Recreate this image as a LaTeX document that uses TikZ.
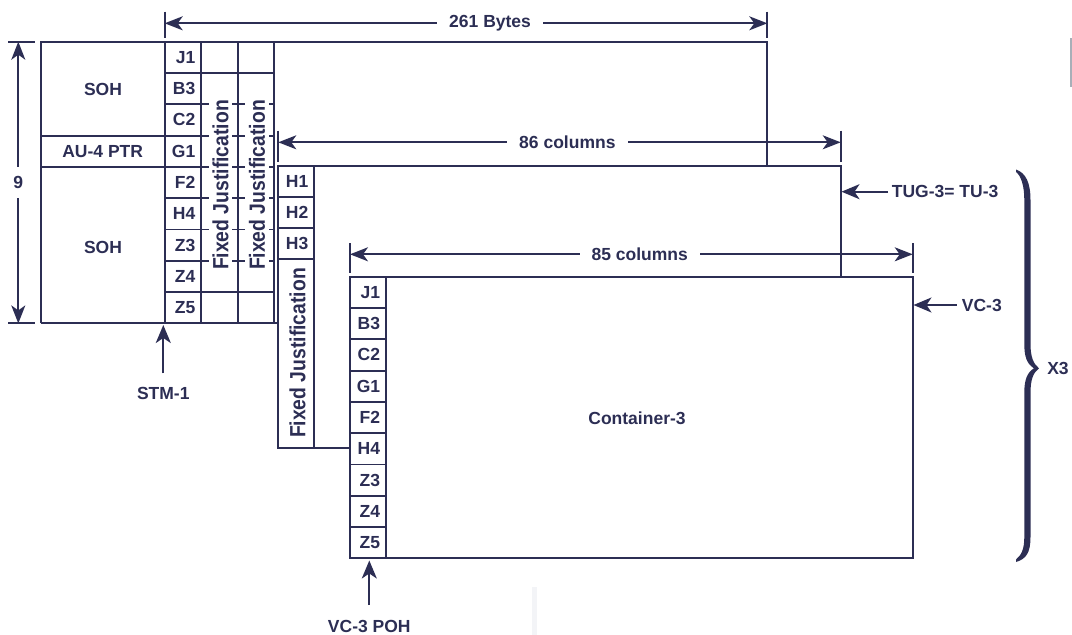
\documentclass[tikz,border=0pt]{standalone}
\usepackage{fontspec}
\setmainfont{Liberation Sans}
\usepackage{graphicx}
\usetikzlibrary{arrows.meta,positioning}
\definecolor{navy}{RGB}{44,46,84}

\begin{document}
\begin{tikzpicture}[
    x=1pt, y=-1pt,
    every node/.style={font=\fontsize{17.5}{20}\selectfont\bfseries, text=navy},
    ln/.style={draw=navy, line width=1.9pt},
    dimarr/.style={ln, {Stealth[length=18pt, width=14pt, inset=5pt]}-{Stealth[length=18pt, width=14pt, inset=5pt]}},
    ptr/.style={ln, -{Stealth[length=18pt, width=15pt, inset=5pt]}},
    lbl/.style={fill=white, inner xsep=12pt, inner ysep=1pt},
    cl/.style={anchor=east, inner sep=0pt},
    fj/.style={rotate=90, fill=white, inner xsep=1pt, inner ysep=3.5pt,
               font=\fontsize{22}{24}\selectfont\bfseries},
    brc/.style={fill=navy},
  ]
  \useasboundingbox (0,0) rectangle (1072,635);
  \fill[fill={rgb,255:red,168;green,175;blue,184}] (1070,38.3) rectangle (1072,86.7);
  \fill[fill={rgb,255:red,243;green,244;blue,247}] (531.7,586.7) rectangle (537.3,635);

  % STM-1 frame
  \draw[ln] (40.7,323.4) -- (40.7,41.7) -- (767.3,41.7) -- (767.3,165.7);
  \draw[ln] (40.7,323.4) -- (278.3,323.4);
  \draw[ln] (164.7,41.7) -- (164.7,323.4);
  \draw[ln] (201.3,41.7) -- (201.3,323.4);
  \draw[ln] (238,41.7) -- (238,323.4);
  \draw[ln] (274,41.7) -- (274,323.4);
  \draw[ln] (40.7,135.6) -- (164.7,135.6);
  \draw[ln] (40.7,166.9) -- (164.7,166.9);
  \foreach \y in {73.0,104.3,135.6,166.9,198.2,229.5,260.8,292.1}
    \draw[ln] (164.7,\y) -- (274,\y);
  \node[fj] (fja) at (220.5,185) {\scalebox{0.88}[1]{Fixed Justification}};
  \node[fj] (fjb) at (257,185) {\scalebox{0.88}[1]{Fixed Justification}};

  % TUG-3
  \draw[ln] (350,447.7) -- (278.3,447.7) -- (278.3,165.7) -- (840.7,165.7) -- (840.7,276.7);
  \draw[ln] (314.3,165.7) -- (314.3,447.7);
  \draw[ln] (278.3,196.9) -- (314.3,196.9);
  \draw[ln] (278.3,228.1) -- (314.3,228.1);
  \draw[ln] (278.3,259.3) -- (314.3,259.3);
  \node[fj, fill=none] (fjc) at (297.5,353) {\scalebox{0.88}[1]{Fixed Justification}};

  % VC-3
  \draw[ln] (350,276.7) rectangle (912.7,558.4);
  \draw[ln] (386,276.7) -- (386,558.4);
  \foreach \y in {308.0,339.3,370.6,401.9,433.2,464.5,495.8,527.1}
    \draw[ln] (350,\y) -- (386,\y);

  % areas
  \node (soha) at (103,89) {SOH};
  \node (ptrau) at (102.7,151.2) {AU-4 PTR};
  \node (sohb) at (103,247) {SOH};
  \node (cont) at (637,418) {Container-3};

  % STM-1 column
  \node[cl] (sj1) at (195.5,57.35) {J1};
  \node[cl] (sb3) at (195.5,88.65) {B3};
  \node[cl] (sc2) at (195.5,119.95) {C2};
  \node[cl] (sg1) at (195.5,151.25) {G1};
  \node[cl] (sf2) at (195.5,182.55) {F2};
  \node[cl] (sh4) at (195.5,213.85) {H4};
  \node[cl] (sz3) at (195.5,245.15) {Z3};
  \node[cl] (sz4) at (195.5,276.45) {Z4};
  \node[cl] (sz5) at (195.5,307.75) {Z5};

  % TUG-3 column
  \node[cl] (th1) at (308.5,181.3) {H1};
  \node[cl] (th2) at (308.5,212.5) {H2};
  \node[cl] (th3) at (308.5,243.7) {H3};

  % VC-3 POH
  \node[cl] (vj1) at (380.3,292.35) {J1};
  \node[cl] (vb3) at (380.3,323.65) {B3};
  \node[cl] (vc2) at (380.3,354.95) {C2};
  \node[cl] (vg1) at (380.3,386.25) {G1};
  \node[cl] (vf2) at (380.3,417.55) {F2};
  \node[cl] (vh4) at (380.3,448.85) {H4};
  \node[cl] (vz3) at (380.3,480.15) {Z3};
  \node[cl] (vz4) at (380.3,511.45) {Z4};
  \node[cl] (vz5) at (380.3,542.75) {Z5};

  % dimensions
  \draw[ln] (164.7,11.7) -- (164.7,38.3);
  \draw[ln] (767.3,11.7) -- (767.3,38.3);
  \coordinate (byl) at (164.7,23.3);
  \coordinate (byr) at (767.3,23.3);
  \draw[dimarr] (byl) -- node[lbl, pos=0.54] (bytes) {261 Bytes} (byr);

  \draw[ln] (278.3,130.7) -- (278.3,161.7);
  \draw[ln] (840.7,130.7) -- (840.7,161.7);
  \coordinate (tul) at (278.3,142.3);
  \coordinate (tur) at (840.7,142.3);
  \draw[dimarr] (tul) -- node[lbl, pos=0.514] (cols86) {86 columns} (tur);

  \draw[ln] (350,243.3) -- (350,273.3);
  \draw[ln] (912.7,243.3) -- (912.7,273.3);
  \coordinate (vcl) at (350,254.3);
  \coordinate (vcr) at (912.7,254.3);
  \draw[dimarr] (vcl) -- node[lbl, pos=0.515] (cols85) {85 columns} (vcr);

  \draw[ln] (8,41.7) -- (35,41.7);
  \draw[ln] (8,323.4) -- (35,323.4);
  \coordinate (rwt) at (18.3,41.7);
  \coordinate (rwb) at (18.3,323.4);
  \draw[dimarr] (rwt) -- node[lbl, inner xsep=2pt, inner ysep=9pt] (rows) {9} (rwb);

  % pointers
  \node (stm) at (163.3,393) {STM-1};
  \coordinate (stmtip) at (163.3,325);
  \draw[ptr, shorten <=10pt] (stm.north) -- (stmtip);

  \node[inner sep=0pt] (poh) at (369.3,626.5) {VC-3 POH};
  \coordinate (pohtip) at (369.3,560.5);
  \draw[ptr, shorten <=15pt] (poh.north) -- (pohtip);

  \node[anchor=west, inner sep=0pt] (tug) at (891.7,191.7) {TUG-3= TU-3};
  \coordinate (tugtip) at (841.5,191.7);
  \draw[ptr, shorten <=3.7pt] (tug.west) -- (tugtip);

  \node[anchor=west, inner sep=0pt] (vc) at (961.7,305) {VC-3};
  \coordinate (vctip) at (913.5,305);
  \draw[ptr, shorten <=5pt] (vc.west) -- (vctip);

  % brace
  \fill[brc] (1016,169.5) .. controls (1026,173) and (1030.5,183) .. (1030.5,200)
    -- (1030.5,344) .. controls (1030.5,357) and (1033.5,364) .. (1039,368.3)
    .. controls (1033.5,372.5) and (1030.5,379) .. (1030.5,393)
    -- (1030.5,537) .. controls (1030.5,553) and (1026,559) .. (1016,562)
    -- (1016,559.5) .. controls (1021.5,555) and (1024.3,549) .. (1024.3,537)
    -- (1024.3,393) .. controls (1024.3,380) and (1027,372.5) .. (1034,368.3)
    .. controls (1027,364) and (1024.3,357) .. (1024.3,344)
    -- (1024.3,200) .. controls (1024.3,187) and (1021.5,176) .. (1016,172) -- cycle;
  \node (times) at (1058,368) {X3};
\end{tikzpicture}
\end{document}
